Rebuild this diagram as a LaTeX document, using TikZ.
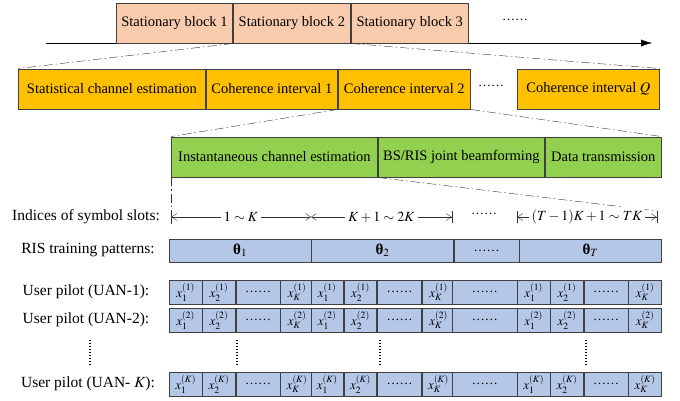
\documentclass[tikz,border=0pt]{standalone}
\usepackage{mathptmx}
\usepackage{fontspec}
\setmainfont{Liberation Serif}
\usetikzlibrary{arrows.meta}

\definecolor{sbfill}{RGB}{248,203,173}
\definecolor{cifill}{RGB}{255,192,0}
\definecolor{tsfill}{RGB}{146,208,80}
\definecolor{pfill}{RGB}{180,199,231}
\definecolor{edge}{RGB}{64,64,64}

\begin{document}
\begin{tikzpicture}[x=1pt, y=-1pt,
    box/.style={draw=edge, line width=0.9pt, inner sep=0pt, anchor=west, minimum height=40pt, font=\fontsize{14.5}{17}\selectfont},
    sblock/.style={box, fill=sbfill},
    ciblock/.style={box, fill=cifill},
    tsblock/.style={box, fill=tsfill},
    pcell/.style={draw=edge, line width=0.8pt, fill=pfill, inner sep=0pt, anchor=west, minimum height=24pt, font=\fontsize{13}{15}\selectfont},
    thcell/.style={pcell, minimum height=23pt, font=\fontsize{15}{17}\selectfont},
    lbl/.style={font=\fontsize{15.5}{18}\selectfont},
    seglbl/.style={fill=white, inner sep=3pt, font=\fontsize{14}{16}\selectfont},
    dotsl/.style={font=\fontsize{13}{15}\selectfont},
    split/.style={draw=black!80, thin, dash pattern=on 9pt off 3pt on 1.5pt off 3pt},
    idx/.style={draw=black!80, thin},
    vdots/.style={line width=1.1pt, dash pattern=on 1.1pt off 1.9pt}
]
    \useasboundingbox (0,0) rectangle (680,401);

    % Time axis with the stationary blocks
    \coordinate (t0) at (46,43);
    \coordinate (t1) at (652,43);
    \draw[-{Latex[length=11pt,width=7pt]}, thin] (t0) -- (t1);
    \node[sblock, minimum width=116pt] (sb1) at (116,23) {Stationary block 1};
    \node[sblock, minimum width=117pt] (sb2) at (sb1.east) {Stationary block 2};
    \node[sblock, minimum width=117pt] (sb3) at (sb2.east) {Stationary block 3};
    \node[dotsl] (sbdots) at (515,20) {\dots\dots};

    % One stationary block
    \node[ciblock, minimum width=187pt] (sce) at (18,89) {Statistical channel estimation};
    \node[ciblock, minimum width=131pt] (ci1) at (sce.east) {Coherence interval 1};
    \node[ciblock, minimum width=132pt] (ci2) at (ci1.east) {Coherence interval 2};
    \node[dotsl] (cidots) at (491,86) {\dots\dots};
    \node[ciblock, minimum width=142pt] (ciQ) at (517,89) {Coherence interval $Q$};

    % One coherence interval
    \node[tsblock, minimum width=206pt] (ice) at (171,157) {Instantaneous channel estimation};
    \node[tsblock, minimum width=166pt] (jbf) at (ice.east) {BS/RIS joint beamforming};
    \node[tsblock, minimum width=116pt] (dtx) at (jbf.east) {Data transmission};

    % Zoom lines
    \draw[split] (sb2.south west) -- (sce.north west);
    \draw[split] (sb3.south west) -- (ciQ.north east);
    \draw[split] (ci2.south west) -- (ice.north west);
    \draw[split] (ci2.south east) -- (dtx.north east);

    % Row labels
    \node[lbl] (lidx) at (86,217) {Indices of symbol slots:};
    \node[lbl] (lris) at (88,250.5) {RIS training patterns:};
    \node[lbl] (lp1) at (86,292) {User pilot (UAN-1):};
    \node[lbl] (lp2) at (86,320) {User pilot (UAN-2):};
    \node[lbl] (lpK) at (88,384) {User pilot (UAN- $K$):};

    % Indices of symbol slots
    \coordinate (s0) at (171,217);
    \coordinate (s1) at (311,217);
    \coordinate (s2) at (452,217);
    \coordinate (s3) at (517,217);
    \coordinate (s4) at (657,217);
    \coordinate (s0b) at (171,224);
    \coordinate (s4t) at (657,211);
    \draw[split] (ice.south west) -- (s0b);
    \draw[split] (ice.south east) -- (s4t);
    \draw[idx, arrows={Bar[width=12pt]Straight Barb[length=5pt,width=7pt]-Straight Barb[length=5pt,width=7pt]}] (s0) -- node[seglbl] {$1\sim K$} (s1);
    \draw[idx, arrows={Straight Barb[length=5pt,width=7pt]-Straight Barb[length=5pt,width=7pt]Bar[width=12pt]}] (s1) -- node[seglbl] {$K+1\sim 2K$} (s2);
    \node[dotsl] (sdots) at (484,214) {\dots\dots};
    \draw[idx, arrows={Bar[width=12pt]Straight Barb[length=5pt,width=7pt]-Straight Barb[length=5pt,width=7pt]Bar[width=12pt]}] (s3) -- node[seglbl] {$(T-1)K+1\sim TK$} (s4);

    % RIS training patterns
    \node[thcell, minimum width=141.5pt] (th1) at (169,250.5) {\textbf{θ}$_1$};
    \node[thcell, minimum width=141.5pt] (th2) at (th1.east) {\textbf{θ}$_2$};
    \node[pcell, minimum height=23pt, minimum width=65pt] (thd) at (th2.east) {\dots\dots};
    \node[thcell, minimum width=141.5pt] (thT) at (thd.east) {\textbf{θ}$_T$};

    % User pilots
    \foreach \r/\yy in {1/292, 2/320, K/384} {
        \foreach \b/\xx in {a/169, b/310.5, t/517} {
            \node[pcell, minimum width=32.5pt] (p\r\b1) at (\xx,\yy) {$x_1^{(\r)}$};
            \node[pcell, minimum width=32.5pt] (p\r\b2) at (p\r\b1.east) {$x_2^{(\r)}$};
            \node[pcell, minimum width=44pt] (p\r\b3) at (p\r\b2.east) {\dots\dots};
            \node[pcell, minimum width=32.5pt] (p\r\b4) at (p\r\b3.east) {$x_K^{(\r)}$};
        }
        \node[pcell, minimum width=65pt] (p\r m) at (452,\yy) {\dots\dots};
    }

    % Skipped users
    \foreach \xx/\n in {90/l, 237/a, 380/b, 586/t} {
        \coordinate (vd\n0) at (\xx,340);
        \coordinate (vd\n1) at (\xx,366);
        \draw[vdots] (vd\n0) -- (vd\n1);
    }
\end{tikzpicture}
\end{document}
